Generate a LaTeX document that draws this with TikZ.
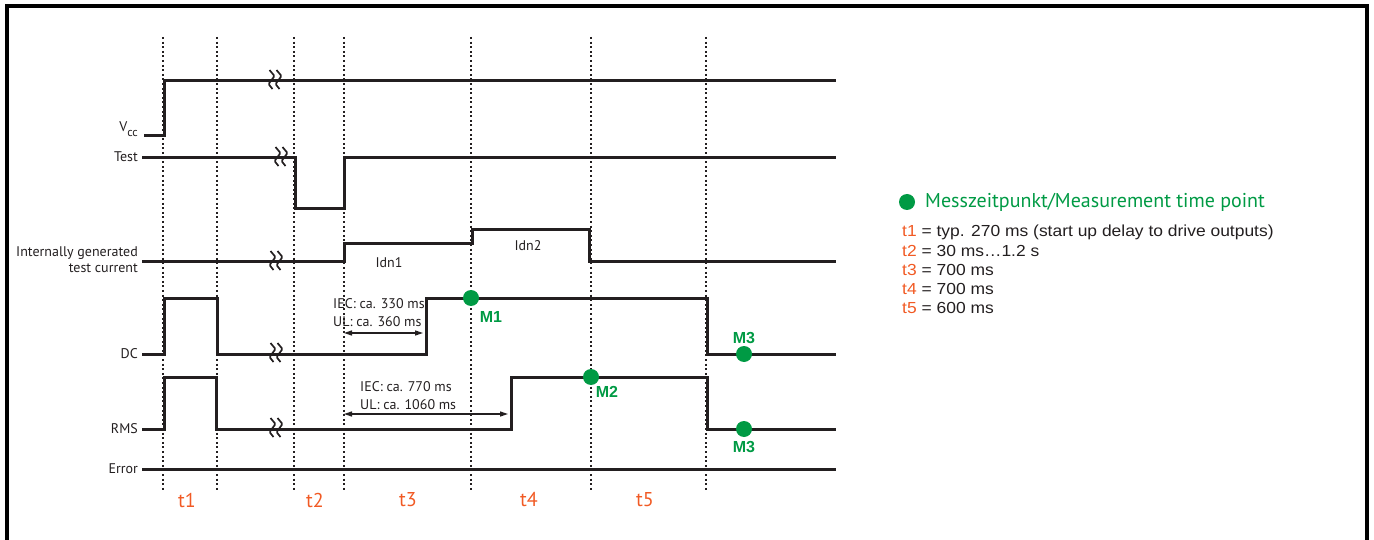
\documentclass[tikz,border=0pt]{standalone}
\usepackage{fontspec}
\setmainfont{Liberation Sans}
\newfontfamily\myrfont{PT Sans}
\newfontfamily\legfont[FakeStretch=1.09]{Liberation Sans}
\usetikzlibrary{arrows.meta}
\definecolor{ink}{HTML}{231F20}
\definecolor{mgreen}{HTML}{009A44}
\definecolor{torange}{HTML}{F15A24}
\tikzset{
	sig/.style={line width=3pt, color=ink},
	grid/.style={line width=2pt, color=ink, dash pattern=on 2pt off 2.6pt},
	brk/.style={line width=1.7pt, color=ink, rounded corners=1.2pt},
	lab/.style={inner sep=0pt, text=ink, font=\myrfont\fontsize{14}{16}\selectfont},
	tlab/.style={inner sep=0pt, text=torange, font=\myrfont\fontsize{20}{22}\selectfont},
	mlab/.style={inner sep=0pt, text=mgreen, font=\bfseries\fontsize{16}{18}\selectfont},
	mdot/.style={fill=mgreen, draw=none},
	leg/.style={inner sep=0pt, anchor=west, text=ink, font=\legfont\fontsize{16}{18}\selectfont},
	dimarr/.style={line width=1.3pt, color=ink, {Triangle[length=8pt,width=5pt]}-{Triangle[length=8pt,width=5pt]}}
}
\def\sigbreak(#1,#2){\begin{scope}[shift={(#1,#2)}]
	\foreach \dx in {-3.5,3.5}
		\draw[brk] (\dx-2,-11) -- (\dx+3,-5) -- (\dx-3,3) -- (\dx+1,8);
	\end{scope}}

\begin{document}
\begin{tikzpicture}[x=1pt, y=-1pt]
		%%%%% START %%%%%
		\useasboundingbox (0,0) rectangle (1374,540);
		
		\draw[line width=4pt] (7,540) -- (7,6) -- (1367,6) -- (1367,540);
		
		% time markers
		\foreach \tx in {163,217,294,344,471,591,706}
			\draw[grid] (\tx,37) -- (\tx,490);
		
		% signal names
		\node[lab, anchor=east] (vcc) at (138,129) {V\raisebox{-4.5pt}{\fontsize{12}{12}\selectfont cc}};
		\node[lab, anchor=east] (test) at (138,157) {Test};
		\node[lab, anchor=east, align=right] (itc) at (138,260) {Internally generated\\test current};
		\node[lab, anchor=east] (dc) at (138,354) {DC};
		\node[lab, anchor=east] (rms) at (138,429) {RMS};
		\node[lab, anchor=east] (err) at (138,469) {Error};
		
		% Vcc
		\draw[sig] (144,136) -- (164,136) -- (164,81) -- (836,81);
		\sigbreak(275,81)
		
		% Test
		\draw[sig] (142,158) -- (295,158) -- (295,209) -- (344,209) -- (344,158) -- (836,158);
		\sigbreak(281,158)
		
		% internally generated test current
		\draw[sig] (142,262) -- (344,262) -- (344,244) -- (472,244) -- (472,230) -- (589,230) -- (589,262) -- (836,262);
		\sigbreak(276,262)
		\node[lab] (idn1) at (389,263) {Idn1};
		\node[lab] (idn2) at (528,246) {Idn2};
		
		% DC
		\draw[sig] (142,354) -- (164,354) -- (164,298) -- (217,298) -- (217,354) -- (426,354) -- (426,298) -- (707,298) -- (707,354) -- (836,354);
		\sigbreak(276,354)
		\node[lab, anchor=west] (iec1) at (333,304) {IEC: ca. 330 ms};
		\node[lab, anchor=west] (ul1) at (333,322) {UL: ca. 360 ms};
		\coordinate (d1a) at (344,333);
		\coordinate (d1b) at (423,333);
		\draw[dimarr] (d1a) -- (d1b);
		
		% RMS
		\draw[sig] (142,429) -- (164,429) -- (164,377) -- (216,377) -- (216,429) -- (511,429) -- (511,377) -- (707,377) -- (707,429) -- (836,429);
		\sigbreak(276,429)
		\node[lab, anchor=west] (iec2) at (360,387) {IEC: ca. 770 ms};
		\node[lab, anchor=west] (ul2) at (360,405) {UL: ca. 1060 ms};
		\coordinate (d2a) at (344,414);
		\coordinate (d2b) at (508,414);
		\draw[dimarr] (d2a) -- (d2b);
		
		% Error
		\draw[sig] (142,469) -- (836,469);
		
		% measurement points
		\fill[mdot] (471,298) circle (8);
		\node[mlab] (m1) at (491,317) {M1};
		\fill[mdot] (591,377) circle (8);
		\node[mlab] (m2) at (607,392) {M2};
		\fill[mdot] (744,354) circle (8);
		\node[mlab] (m3a) at (744,338) {M3};
		\fill[mdot] (744,429) circle (8);
		\node[mlab] (m3b) at (744,447) {M3};
		
		% intervals
		\node[tlab] (t1) at (187,500) {t1};
		\node[tlab] (t2) at (315,500) {t2};
		\node[tlab] (t3) at (408,500) {t3};
		\node[tlab] (t4) at (529,500) {t4};
		\node[tlab] (t5) at (645,500) {t5};
		
		% legend
		\fill[mdot] (907,202) circle (8);
		\node[inner sep=0pt, anchor=west, text=mgreen, font=\myrfont\fontsize{20}{22}\selectfont] (legtitle) at (925,202) {Messzeitpunkt/Measurement time point};
		\node[leg] (leg1) at (902,232) {\textcolor{torange}{t1} = typ. 270 ms (start up delay to drive outputs)};
		\node[leg] (leg2) at (902,251) {\textcolor{torange}{t2} = 30 ms\ldots1.2 s};
		\node[leg] (leg3) at (902,270) {\textcolor{torange}{t3} = 700 ms};
		\node[leg] (leg4) at (902,289) {\textcolor{torange}{t4} = 700 ms};
		\node[leg] (leg5) at (902,308) {\textcolor{torange}{t5} = 600 ms};
		
		%%%%% END %%%%%
\end{tikzpicture}
\end{document}
